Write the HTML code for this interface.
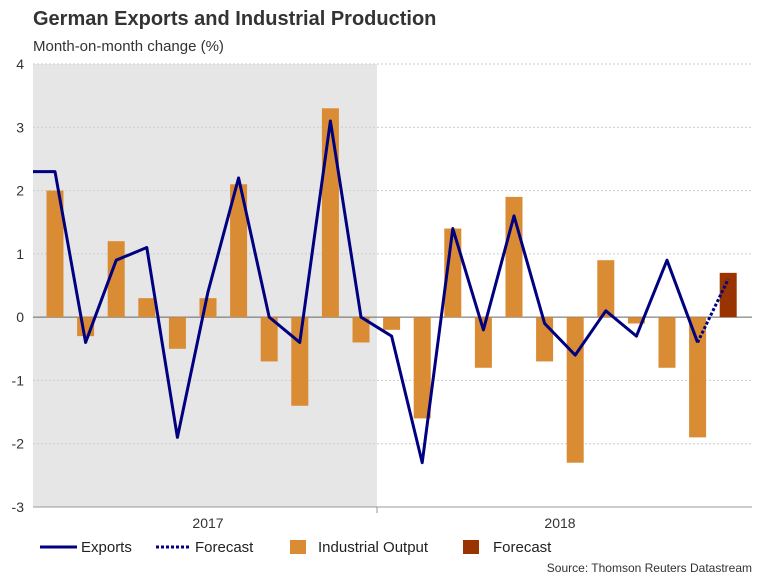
<!DOCTYPE html>
<html><head><meta charset="utf-8"><style>
body{margin:0;background:#fff;font-family:"Liberation Sans",sans-serif}
svg text{font-family:"Liberation Sans",sans-serif}
</style></head><body>
<svg width="768" height="576" viewBox="0 0 768 576">
<text x="33" y="25" font-size="20" font-weight="bold" fill="#333">German Exports and Industrial Production</text>
<text x="33" y="51" font-size="15" fill="#333">Month-on-month change (%)</text>
<rect x="33" y="64" width="344" height="443" fill="#e6e6e6"/>
<g id="grid"></g>
<g id="bars"></g>
<g id="lines"></g>
<g id="axis"></g>
<g>
<line x1="40" y1="547" x2="77" y2="547" stroke="#000080" stroke-width="3"/>
<text x="81" y="552" font-size="15" fill="#222">Exports</text>
<line x1="156" y1="547" x2="190" y2="547" stroke="#000080" stroke-width="3" stroke-dasharray="3,2"/>
<text x="195" y="552" font-size="15" fill="#222">Forecast</text>
<rect x="290" y="540" width="16" height="14" fill="#d98c33"/>
<text x="318" y="552" font-size="15" fill="#222">Industrial Output</text>
<rect x="463" y="540" width="16" height="14" fill="#993300"/>
<text x="493" y="552" font-size="15" fill="#222">Forecast</text>
</g>
<text x="752" y="572" font-size="12" fill="#333" text-anchor="end">Source: Thomson Reuters Datastream</text>
</svg>
<script>
const yTicks=[4,3,2,1,0,-1,-2,-3];
const years=["2017","2018"];
const output=[2.0,-0.3,1.2,0.3,-0.5,0.3,2.1,-0.7,-1.4,3.3,-0.4,-0.2,-1.6,1.4,-0.8,1.9,-0.7,-2.3,0.9,-0.1,-0.8,-1.9];
const outputForecast=[0.7];
const exportsLine=[2.3,2.3,-0.4,0.9,1.1,-1.9,0.4,2.2,0.0,-0.4,3.1,0.0,-0.3,-2.3,1.4,-0.2,1.6,-0.1,-0.6,0.1,-0.3,0.9,-0.4];
const exportsForecast=[-0.4,0.6];
const NS="http://www.w3.org/2000/svg";
const L=33,R=752,T=64,B=507;
const y=v=>T+(4-v)*(B-T)/7;
const x=i=>55+30.6*i; // i = month index, first bar = 0
function mk(tag,attrs,parent){const e=document.createElementNS(NS,tag);for(const k in attrs)e.setAttribute(k,attrs[k]);document.getElementById(parent).appendChild(e);return e;}
yTicks.forEach(v=>{
 if(v!==-3){const g=mk('line',{x1:L,x2:R,y1:y(v),y2:y(v),stroke:v===0?'#666':'#ccc','stroke-width':1,'stroke-dasharray':v===0?'':'2,2'},'grid');
 
 }
 const t=mk('text',{x:24,y:y(v)+5,'font-size':14,fill:'#333','text-anchor':'end'},'axis');t.textContent=v;
 
 
});
const bw=17;
output.forEach((v,i)=>{const r=mk('rect',{x:x(i)-bw/2,y:Math.min(y(v),y(0)),width:bw,height:Math.abs(y(v)-y(0)),fill:'#d98c33'},'bars');
 
 });
outputForecast.forEach((v,j)=>{const i=output.length+j;const r=mk('rect',{x:x(i)-bw/2,y:Math.min(y(v),y(0)),width:bw,height:Math.abs(y(v)-y(0)),fill:'#993300'},'bars');
 
 });
// exports line: first point at plot left edge
let pts=exportsLine.map((v,i)=>[(i===0?L:x(i-1)),y(v)]);
const pl=mk('polyline',{points:pts.map(p=>p.join(',')).join(' '),fill:'none',stroke:'#000080','stroke-width':3,'stroke-linejoin':'round'},'lines');


const s=exportsLine.length-2;
const fp=exportsForecast.map((v,j)=>[x(s+j),y(v)]);
const fl=mk('polyline',{points:fp.map(p=>p.join(',')).join(' '),fill:'none',stroke:'#000080','stroke-width':3,'stroke-dasharray':'3,2'},'lines');


const ax=mk('line',{x1:L,x2:R,y1:B,y2:B,stroke:'#999','stroke-width':1},'axis');


const tk=mk('line',{x1:377,x2:377,y1:B,y2:B+6,stroke:'#999'},'axis');


const yx=[208,560];
years.forEach((t,i)=>{const e=mk('text',{x:yx[i],y:528,'font-size':14,fill:'#333','text-anchor':'middle'},'axis');e.textContent=t;
 
 });
</script>
</body></html>
